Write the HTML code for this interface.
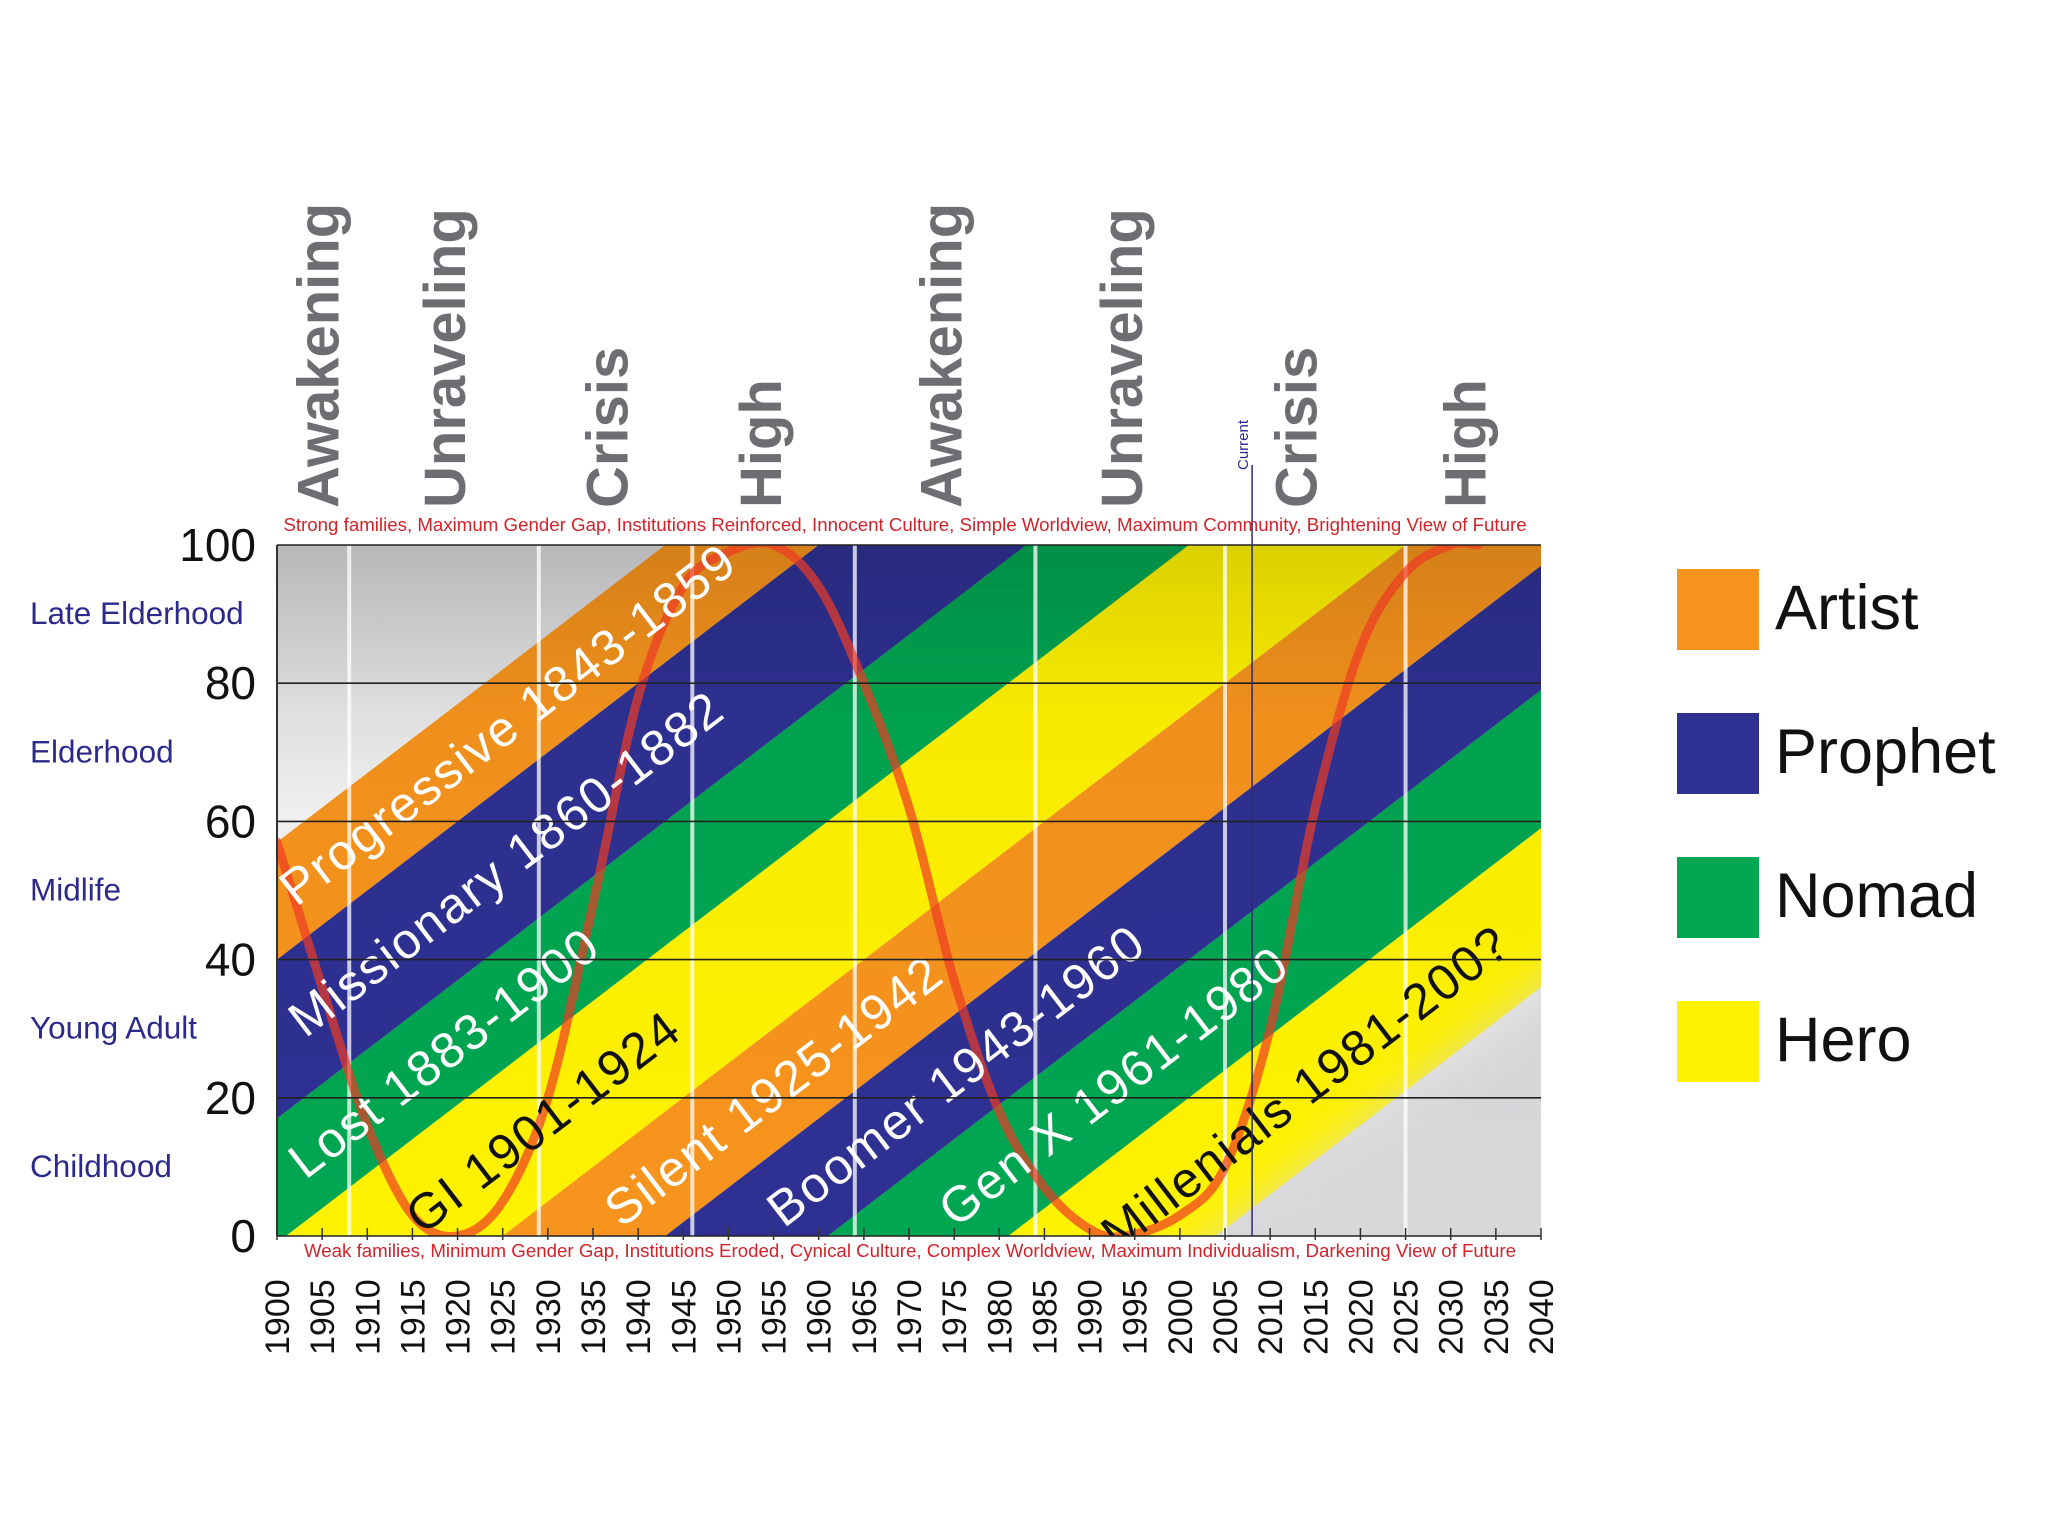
<!DOCTYPE html>
<html><head><meta charset="utf-8"><style>
html,body{margin:0;padding:0;background:#fff;overflow:hidden;width:2048px;height:1536px;}
svg{display:block;font-family:"Liberation Sans",sans-serif;}
</style></head><body>
<svg id="chart" width="2048" height="1536" viewBox="0 0 2048 1536">
<defs>
<clipPath id="plotclip"><rect x="277" y="545" width="1264" height="691"/></clipPath>
<linearGradient id="bg" x1="0" y1="0" x2="0" y2="1">
<stop offset="0" stop-color="#d6d6d8"/><stop offset="0.2" stop-color="#e2e2e3"/><stop offset="0.4" stop-color="#f6f6f6"/><stop offset="1" stop-color="#d8d8da"/></linearGradient>
<linearGradient id="topdark" x1="0" y1="0" x2="0" y2="1">
<stop offset="0" stop-color="#000" stop-opacity="0.14"/><stop offset="0.25" stop-color="#000" stop-opacity="0.03"/><stop offset="1" stop-color="#000" stop-opacity="0"/></linearGradient>
<filter id="blur" x="-50%" y="-50%" width="200%" height="200%"><feGaussianBlur stdDeviation="26"/></filter>
</defs>
<g id="plot" clip-path="url(#plotclip)"></g>
<g id="axes"></g>
<g id="labels"></g>
</svg>
<script>
const genNames=["Progressive 1843-1859","Missionary 1860-1882","Lost 1883-1900","GI 1901-1924","Silent 1925-1942","Boomer 1943-1960","Gen X 1961-1980","Millenials 1981-200?"];
const genStart=[1843,1860,1883,1901,1925,1943,1961,1981];
const genEnd=[1860,1883,1901,1925,1943,1961,1981,2004];
const genType=["Artist","Prophet","Nomad","Hero","Artist","Prophet","Nomad","Hero"];
const labelYear=[1901,1902,1902,1915,1937,1955,1974,1992];
const typeNames=["Artist","Prophet","Nomad","Hero"];
const typeColors=["#f7941d","#2e3192","#00a651","#fff200"];
const turnYears=[1908,1929,1946,1964,1984,2005,2025];
const turnNames=["Awakening","Unraveling","Crisis","High","Awakening","Unraveling","Crisis","High"];
const turnLabelYears=[1904.5,1918.5,1936.5,1953.5,1973.5,1993.5,2012.8,2031.5];
const curveYears=[1900,1905,1910,1915,1920,1925,1930,1935,1940,1945,1950,1955,1960,1965,1970,1975,1980,1985,1990,1994,2000,2005,2010,2015,2020,2025,2030,2033];
const curveVals=[57,36,16,3,0,5,20,48,78,94,99,100,94,80,62,37,18,7,1,0,3,10,30,62,85,96,100,100];
const yTicks=[0,20,40,60,80,100];
const stageNames=["Late Elderhood","Elderhood","Midlife","Young Adult","Childhood"];
const stageAges=[90,70,50,30,10];
const currentYear=2008;

const X0=277,X1=1541,Y0=1236,Y1=545,YR0=1900,YR1=2040;
const xs=y=>X0+(y-YR0)*(X1-X0)/(YR1-YR0);
const ys=v=>Y0-v*(Y0-Y1)/100;
const NS="http://www.w3.org/2000/svg";
function mk(tag,attrs,parent,txt){const e=document.createElementNS(NS,tag);for(const k in attrs)e.setAttribute(k,attrs[k]);if(txt!==undefined)e.textContent=txt;parent.appendChild(e);return e;}
const plot=document.getElementById('plot'),axes=document.getElementById('axes'),labels=document.getElementById('labels');

let bg=mk('rect',{x:X0,y:Y1,width:X1-X0,height:Y0-Y1,fill:'url(#bg)'},plot);



function band(b0,b1){
  const ya=YR0-10,yb=YR1+10;
  return [[xs(ya),ys(ya-b0)],[xs(yb),ys(yb-b0)],[xs(yb),ys(yb-b1)],[xs(ya),ys(ya-b1)]].map(p=>p.join(',')).join(' ');
}
genStart.forEach((s,i)=>{
  const p=mk('polygon',{points:band(s,genEnd[i]),fill:typeColors[typeNames.indexOf(genType[i])]},plot);
  
  
});
let fut=mk('polygon',{points:band(genEnd[genEnd.length-1]+2,2200),fill:'#d8d8da',filter:'url(#blur)'},plot);


let td=mk('rect',{x:X0,y:Y1,width:X1-X0,height:Y0-Y1,fill:'url(#topdark)'},plot);



turnYears.forEach(t=>{
  const l=mk('line',{x1:xs(t),x2:xs(t),y1:Y1,y2:Y0,stroke:'#fff','stroke-width':4,'stroke-opacity':0.75},plot);
  
  
});

// smooth curve (Catmull-Rom)
const pts=curveYears.map((y,i)=>[xs(y),ys(curveVals[i])]);
let d='M'+pts[0][0].toFixed(1)+','+pts[0][1].toFixed(1);
for(let i=0;i<pts.length-1;i++){
  const p0=pts[Math.max(i-1,0)],p1=pts[i],p2=pts[i+1],p3=pts[Math.min(i+2,pts.length-1)];
  const c1=[p1[0]+(p2[0]-p0[0])/6,p1[1]+(p2[1]-p0[1])/6],c2=[p2[0]-(p3[0]-p1[0])/6,p2[1]-(p3[1]-p1[1])/6];
  d+=` C${c1[0].toFixed(1)},${c1[1].toFixed(1)} ${c2[0].toFixed(1)},${c2[1].toFixed(1)} ${p2[0].toFixed(1)},${p2[1].toFixed(1)}`;
}
let cv=mk('path',{d:d,fill:'none',stroke:'#ee3a24','stroke-width':9,'stroke-opacity':0.7,'stroke-linejoin':'round','stroke-linecap':'round'},plot);



yTicks.forEach(v=>{
  const l=mk('line',{x1:X0,x2:X1,y1:ys(v),y2:ys(v),stroke:'#222','stroke-width':1.6},axes);
  
  
  const t=mk('text',{x:256,y:ys(v)+16,'text-anchor':'end','font-size':46,fill:'#111'},axes,String(v));
  
  
});
let la=mk('line',{x1:X0,x2:X0,y1:Y1,y2:Y0,stroke:'#333','stroke-width':2},axes);


let cur=mk('line',{x1:xs(currentYear),x2:xs(currentYear),y1:465,y2:Y0,stroke:'#2b2a6e','stroke-width':1.5},axes);


let ct=mk('text',{x:0,y:0,'font-size':15,fill:'#2b2a8a',transform:`translate(${xs(currentYear)-4},470) rotate(-90)`},axes,'Current');



for(let yr=YR0;yr<=YR1;yr+=5){
  const l=mk('line',{x1:xs(yr),x2:xs(yr),y1:Y0-8,y2:Y0+4,stroke:'#333','stroke-width':1.5},axes);
  
  
  const t=mk('text',{x:0,y:0,'font-size':34,fill:'#111',transform:`translate(${xs(yr)+12},1355) rotate(-90)`},axes,String(yr));
  
  
}

const ang=Math.atan((ys(0)-ys(1))/(xs(1)-xs(0)))*180/Math.PI;
genNames.forEach((n,i)=>{
  const mid=(genStart[i]+genEnd[i])/2, yr=labelYear[i];
  const dark=genType[i]==="Hero";
  const t=mk('text',{x:0,y:0,'font-size':50,'letter-spacing':2,fill:dark?'#111':'#fff','dominant-baseline':'central',transform:`translate(${xs(yr)},${ys(yr-mid)}) rotate(${-ang})`},plot,n);
  
  
});

turnNames.forEach((n,i)=>{
  const t=mk('text',{x:0,y:0,'font-size':58,'font-weight':'bold',fill:'#6d6e71',transform:`translate(${xs(turnLabelYears[i])+21},508) rotate(-90)`},labels,n);
  
  
});
stageNames.forEach((n,i)=>{
  const t=mk('text',{x:30,y:ys(stageAges[i])+10,'font-size':31.5,fill:'#2b2a8a'},labels,n);
  
  
});
let tt=mk('text',{x:905,y:531,'text-anchor':'middle','font-size':18.7,fill:'#d2232a'},labels,'Strong families, Maximum Gender Gap, Institutions Reinforced, Innocent Culture, Simple Worldview, Maximum Community, Brightening View of Future');


let bt=mk('text',{x:910,y:1257,'text-anchor':'middle','font-size':18.7,fill:'#d2232a'},labels,'Weak families, Minimum Gender Gap, Institutions Eroded, Cynical Culture, Complex Worldview, Maximum Individualism, Darkening View of Future');



typeNames.forEach((n,i)=>{
  const y=569+i*144;
  const r=mk('rect',{x:1677,y:y,width:82,height:81,fill:typeColors[i]},labels);
  
  
  const t=mk('text',{x:1775,y:y+60,'font-size':63,fill:'#111'},labels,n);
  
  
});
</script>
</body></html>
